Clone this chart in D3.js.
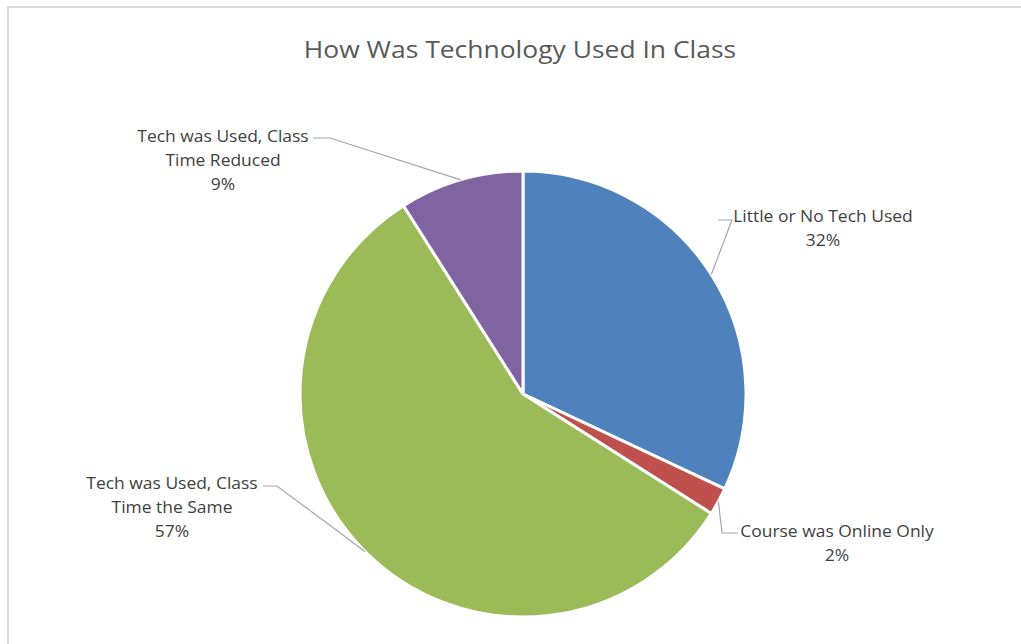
<!DOCTYPE html>
<html>
<head>
<meta charset="utf-8">
<script src="https://cdn.jsdelivr.net/npm/d3@7"></script>
<style>
  html, body { margin: 0; padding: 0; background: #ffffff; }
  svg { display: block; }
  text { font-family: "Open Sans", "Liberation Sans", sans-serif; }
</style>
</head>
<body>
<svg id="chart" width="1021" height="644"></svg>
<script>
// Survey answers: how technology was used in class (share of responses, %)
const categories = [
  "Little or No Tech Used",
  "Course was Online Only",
  "Tech was Used, Class Time the Same",
  "Tech was Used, Class Time Reduced"
];
const values = [32, 2, 57, 9];
const labelLines = [
  ["Little or No Tech Used"],
  ["Course was Online Only"],
  ["Tech was Used, Class", "Time the Same"],
  ["Tech was Used, Class", "Time Reduced"]
];
const colors = ["#4F81BD", "#C0504D", "#9BBB59", "#8064A2"];

const W = 1021, H = 644;
const cx = 523, cy = 394, R = 223;

const svg = d3.select("#chart");

// widen glyph runs slightly (wide-set office-style lettering)
function widen(sel, factor) {
  sel.each(function () {
    const len = this.getComputedTextLength();
    d3.select(this)
      .attr("textLength", len * factor)
      .attr("lengthAdjust", "spacingAndGlyphs");
  });
}

// chart area frame
svg.append("path")
  .attr("d", `M8,${H + 2} L8,7 L${W + 2},7`)
  .attr("fill", "none")
  .attr("stroke", "#d9d9d9")
  .attr("stroke-width", 2);

const title = svg.append("text")
  .attr("x", 520)
  .attr("y", 58)
  .attr("text-anchor", "middle")
  .attr("font-size", 23)
  .attr("fill", "#595959")
  .text("How Was Technology Used In Class");
widen(title, 1.15);

const data = categories.map((c, i) => ({ name: c, value: values[i], lines: labelLines[i], color: colors[i] }));

const pie = d3.pie().value(d => d.value).sort(null);
const arcs = pie(data);
const arc = d3.arc().innerRadius(0).outerRadius(R);
const edge = d3.arc().innerRadius(R).outerRadius(R);

const g = svg.append("g").attr("transform", `translate(${cx},${cy})`);

g.selectAll("path.slice")
  .data(arcs)
  .enter().append("path")
  .attr("class", "slice")
  .attr("d", arc)
  .attr("fill", d => d.data.color)
  .attr("stroke", "#ffffff")
  .attr("stroke-width", 3)
  .attr("stroke-linejoin", "round");

// data label placement (block centre x, first baseline y) and leader elbows
const labelPos = [
  { x: 823, y: 222, elbow: [[732, 220], [718, 220]] },
  { x: 837, y: 537, elbow: [[722, 533], [738, 533]] },
  { x: 172, y: 489, elbow: [[277, 486], [263, 486]] },
  { x: 223, y: 142, elbow: [[330, 138], [313, 138]] }
];

const labels = svg.append("g");
arcs.forEach((a, i) => {
  const p = labelPos[i];
  const [ex, ey] = edge.centroid(a);
  // leader: from the slice's outer edge to the label
  const path = [[cx + ex, cy + ey], p.elbow[0], p.elbow[1]];
  labels.append("path")
    .attr("d", d3.line()(path))
    .attr("fill", "none")
    .attr("stroke", "#a6a6a6")
    .attr("stroke-width", 1.2);

  const t = labels.append("text")
    .attr("text-anchor", "middle")
    .attr("font-size", 16)
    .attr("fill", "#404040");
  const lines = a.data.lines.concat([a.data.value + "%"]);
  lines.forEach((ln, k) => {
    t.append("tspan")
      .attr("x", p.x)
      .attr("y", p.y + k * 24)
      .text(ln);
  });
  widen(t.selectAll("tspan"), 1.09);
});
</script>
</body>
</html>
